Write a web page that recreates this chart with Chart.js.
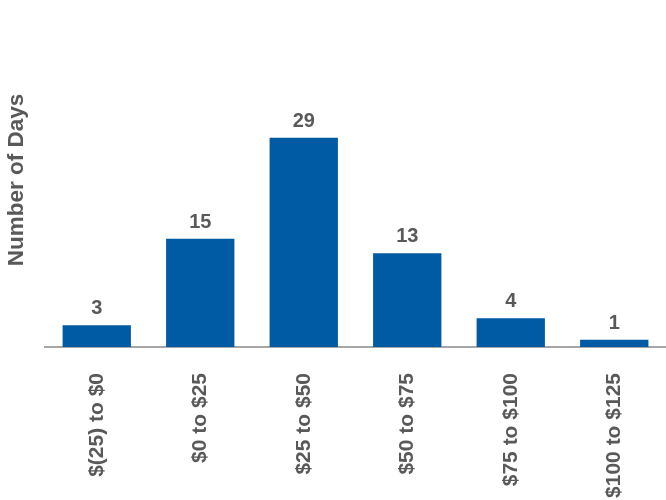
<!DOCTYPE html>
<html>
<head>
<meta charset="utf-8">
<script src="https://cdn.jsdelivr.net/npm/chart.js@4/dist/chart.umd.min.js"></script>
<style>
html,body{margin:0;padding:0;background:#fff;}
#wrap{width:666px;height:500px;}
</style>
</head>
<body>
<div id="wrap"><canvas id="c" width="666" height="500"></canvas></div>
<script>
const categories = ["$(25) to $0", "$0 to $25", "$25 to $50", "$50 to $75", "$75 to $100", "$100 to $125"];
const days = [3, 15, 29, 13, 4, 1];
const yTitle = "Number of Days";

const textColor = "#595959";
const fontFam = "'Liberation Sans', Arial, sans-serif";

const valueLabels = {
  id: "valueLabels",
  afterDatasetsDraw(chart) {
    const ctx = chart.ctx;
    const meta = chart.getDatasetMeta(0);
    ctx.save();
    ctx.fillStyle = textColor;
    ctx.font = "bold 20px " + fontFam;
    ctx.textAlign = "center";
    ctx.textBaseline = "alphabetic";
    meta.data.forEach((bar, i) => {
      ctx.fillText(String(chart.data.datasets[0].data[i]), bar.x, bar.y - 11);
    });
    ctx.restore();
  }
};

new Chart(document.getElementById("c"), {
  type: "bar",
  data: {
    labels: categories,
    datasets: [{
      data: days,
      backgroundColor: "#005aa4",
      borderWidth: 0,
      barPercentage: 0.66,
      categoryPercentage: 1.0
    }]
  },
  options: {
    responsive: false,
    animation: false,
    layout: { padding: { top: 13, right: 0, left: 0, bottom: 0 } },
    plugins: { legend: { display: false }, tooltip: { enabled: false } },
    scales: {
      x: {
        grid: { display: false, drawTicks: false },
        border: { display: true, color: "#a6a6a6", width: 2 },
        ticks: {
          autoSkip: false,
          maxRotation: 90,
          minRotation: 90,
          padding: 26,
          color: textColor,
          font: { family: fontFam, size: 21, weight: "bold" }
        },
        afterFit(scale) { scale.height = 153; }
      },
      y: {
        min: 0,
        max: 46.3,
        grid: { display: false, drawTicks: false },
        border: { display: false },
        ticks: { display: false },
        title: {
          display: true,
          text: yTitle,
          color: textColor,
          padding: { top: 3, bottom: 0 },
          font: { family: fontFam, size: 22.5, weight: "bold" }
        },
        afterFit(scale) { scale.width = 45; }
      }
    }
  },
  plugins: [valueLabels]
});
</script>
</body>
</html>
